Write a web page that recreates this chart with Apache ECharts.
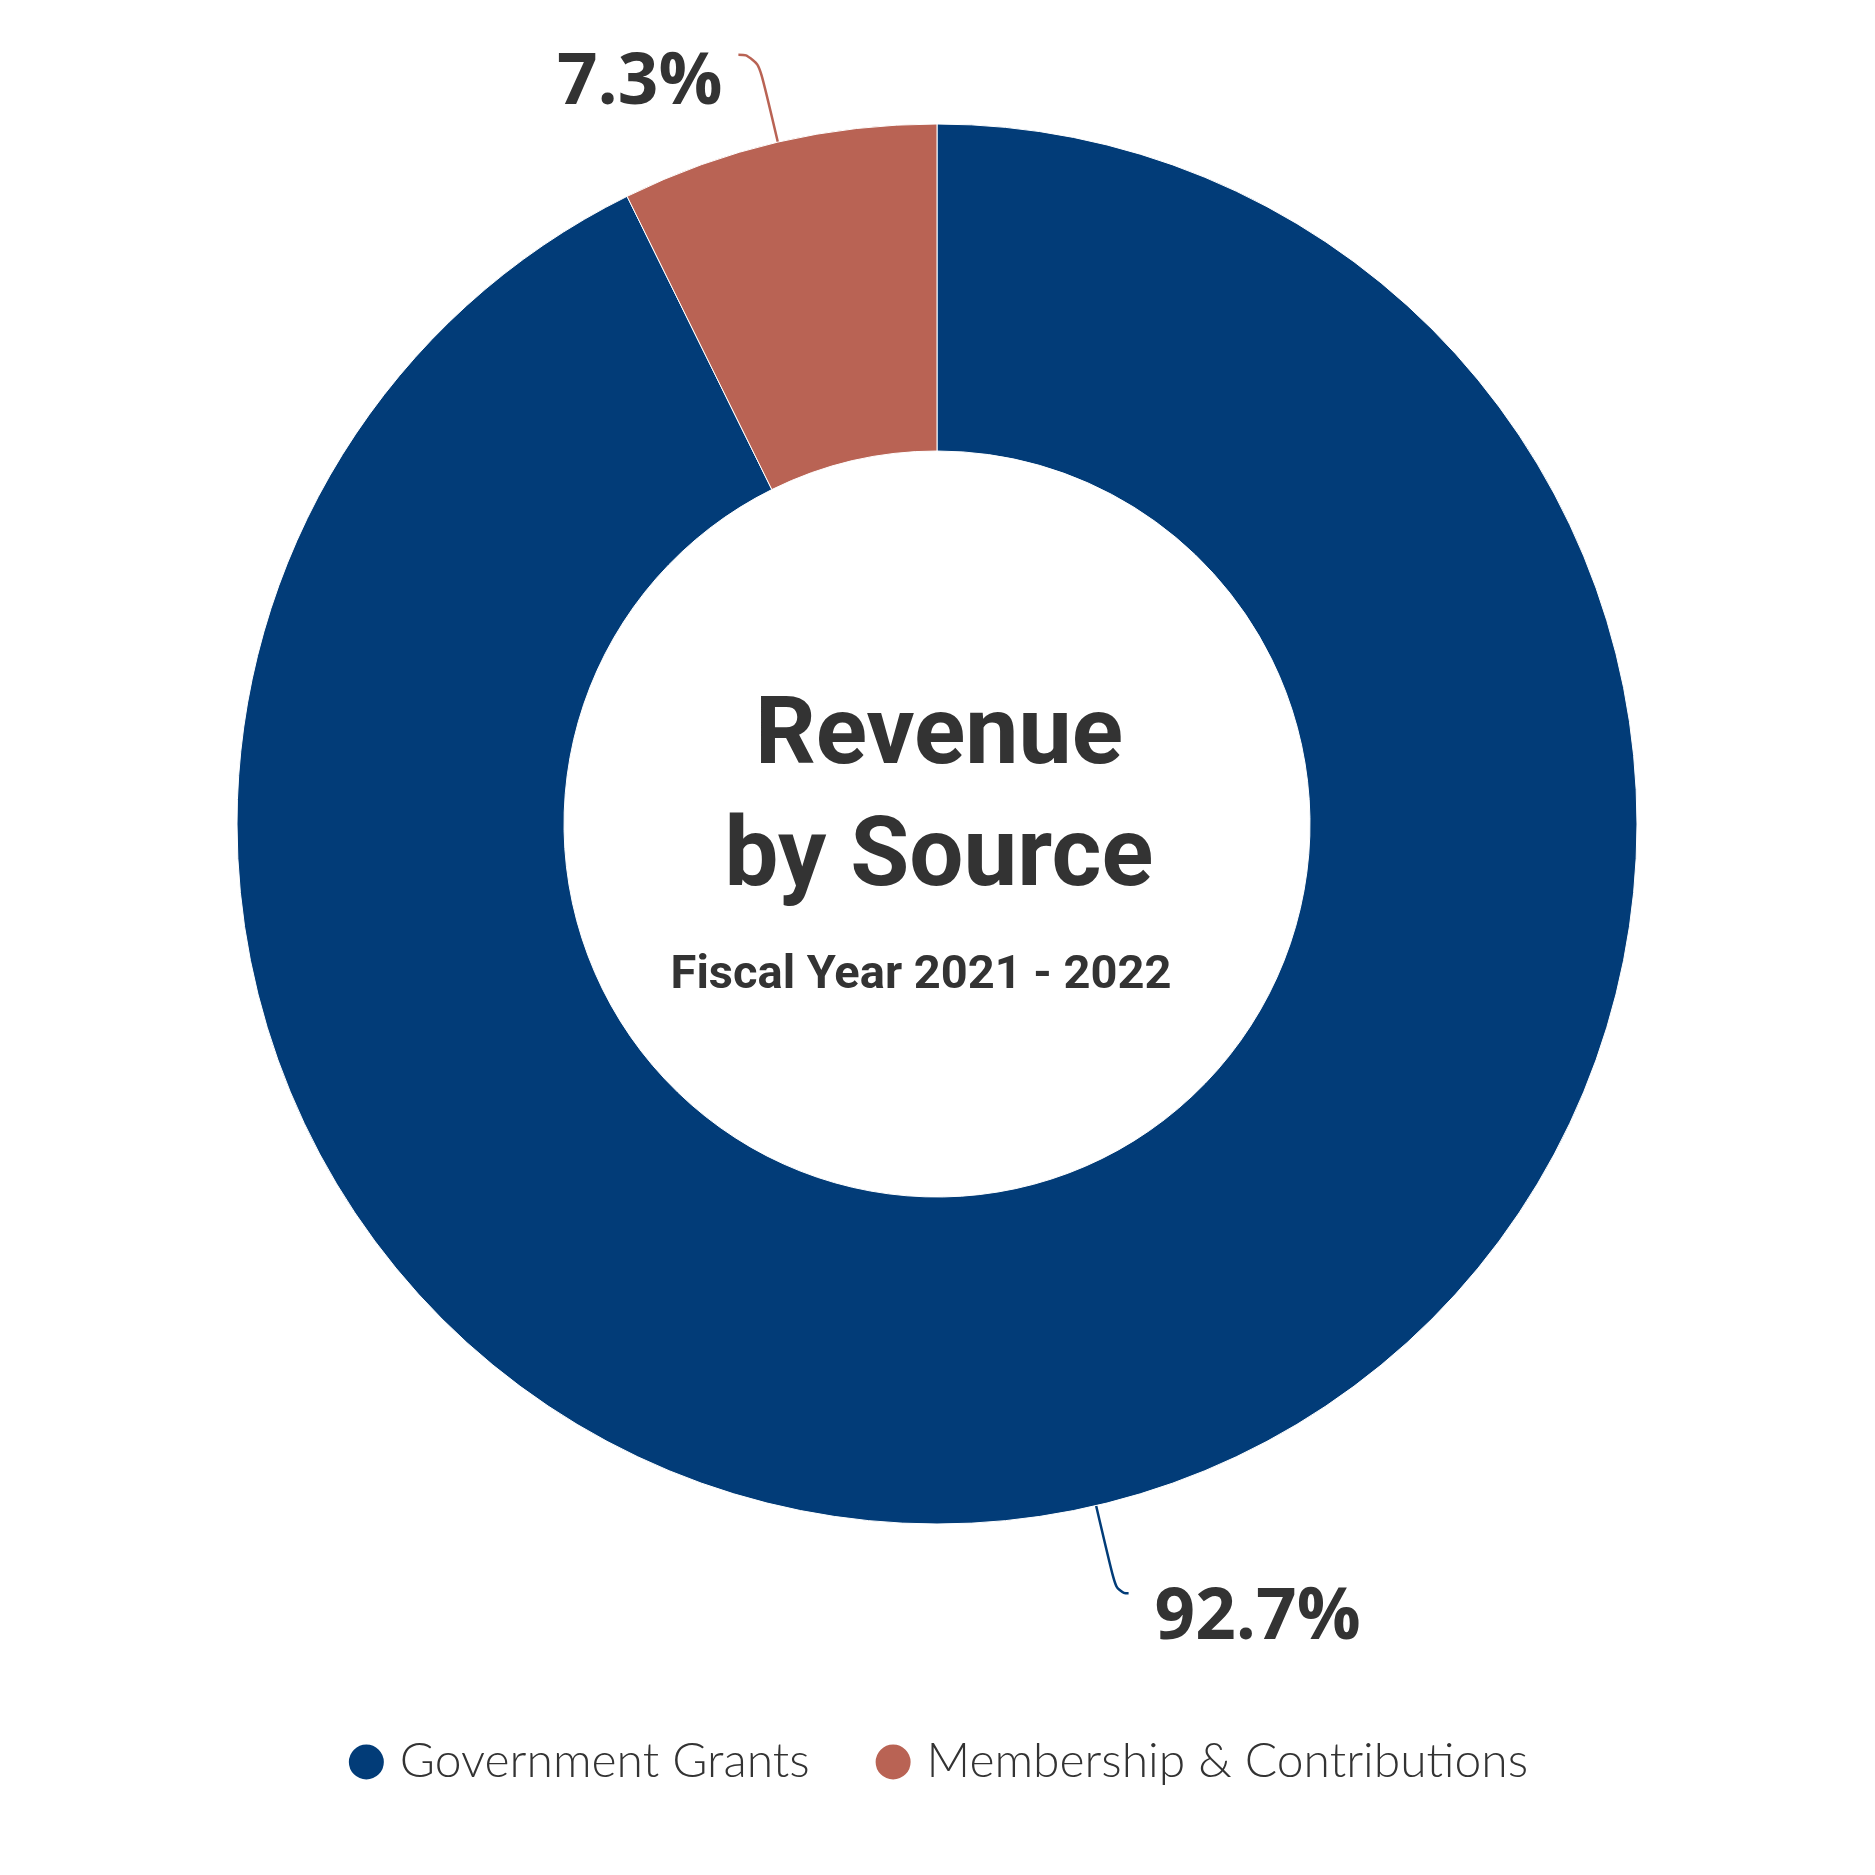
<!DOCTYPE html>
<html>
<head>
<meta charset="utf-8">
<script src="https://cdn.jsdelivr.net/npm/echarts@6/dist/echarts.min.js"></script>
<style>
html,body{margin:0;padding:0;background:#fff;}
#chart{width:1875px;height:1875px;}
</style>
</head>
<body>
<div id="chart"></div>
<script>
const categories = ['Government Grants', 'Membership & Contributions'];
const values = [92.7, 7.3];
const colors = ['#023c78', '#b96354'];
const titleLines = ['Revenue', 'by Source'];
const subtitle = 'Fiscal Year 2021 - 2022';

const labelTweaks = [
  { length2: 12, dist: 26, lh: 50 },
  { length2: 19, dist: 16, lh: 58 }
];

const chart = echarts.init(document.getElementById('chart'));
chart.setOption({
  backgroundColor: '#fff',
  animation: false,
  color: colors,
  legend: {
    data: categories,
    left: 'center',
    top: 1733,
    icon: 'circle',
    itemWidth: 37,
    itemHeight: 37,
    itemGap: 64,
    textStyle: {
      fontFamily: 'Lato',
      fontWeight: 300,
      fontSize: 48,
      color: '#333',
      padding: [0, 0, 0, 10]
    }
  },
  graphic: [
    { type: 'text', x: 939, y: 739, style: { text: titleLines[0], textAlign: 'center', textVerticalAlign: 'middle', fontFamily: 'Roboto', fontWeight: 'bold', fontSize: 95, fill: '#333' } },
    { type: 'text', x: 939, y: 861, style: { text: titleLines[1], textAlign: 'center', textVerticalAlign: 'middle', fontFamily: 'Roboto', fontWeight: 'bold', fontSize: 96, fill: '#333' } },
    { type: 'text', x: 921, y: 976, style: { text: subtitle, textAlign: 'center', textVerticalAlign: 'middle', fontFamily: 'Roboto', fontWeight: 'bold', fontSize: 47, fill: '#333' } }
  ],
  series: [{
    type: 'pie',
    center: [937, 824],
    radius: [373, 700],
    startAngle: 90,
    clockwise: true,
    avoidLabelOverlap: false,
    itemStyle: { borderColor: '#fff', borderWidth: 1 },
    label: {
      show: true,
      position: 'outside',
      formatter: p => '\n' + p.value.toFixed(1) + '%',
      fontFamily: 'Open Sans',
      fontWeight: 'bold',
      fontSize: 71,
      color: '#333'
    },
    labelLine: {
      show: true,
      length: 90,
      smooth: 0.6,
      lineStyle: { width: 2.5 }
    },
    emphasis: { disabled: true },
    data: categories.map((name, i) => ({
      name: name,
      value: values[i],
      label: { distanceToLabelLine: labelTweaks[i].dist, lineHeight: labelTweaks[i].lh },
      labelLine: { length2: labelTweaks[i].length2 }
    }))
  }]
});
</script>
</body>
</html>
